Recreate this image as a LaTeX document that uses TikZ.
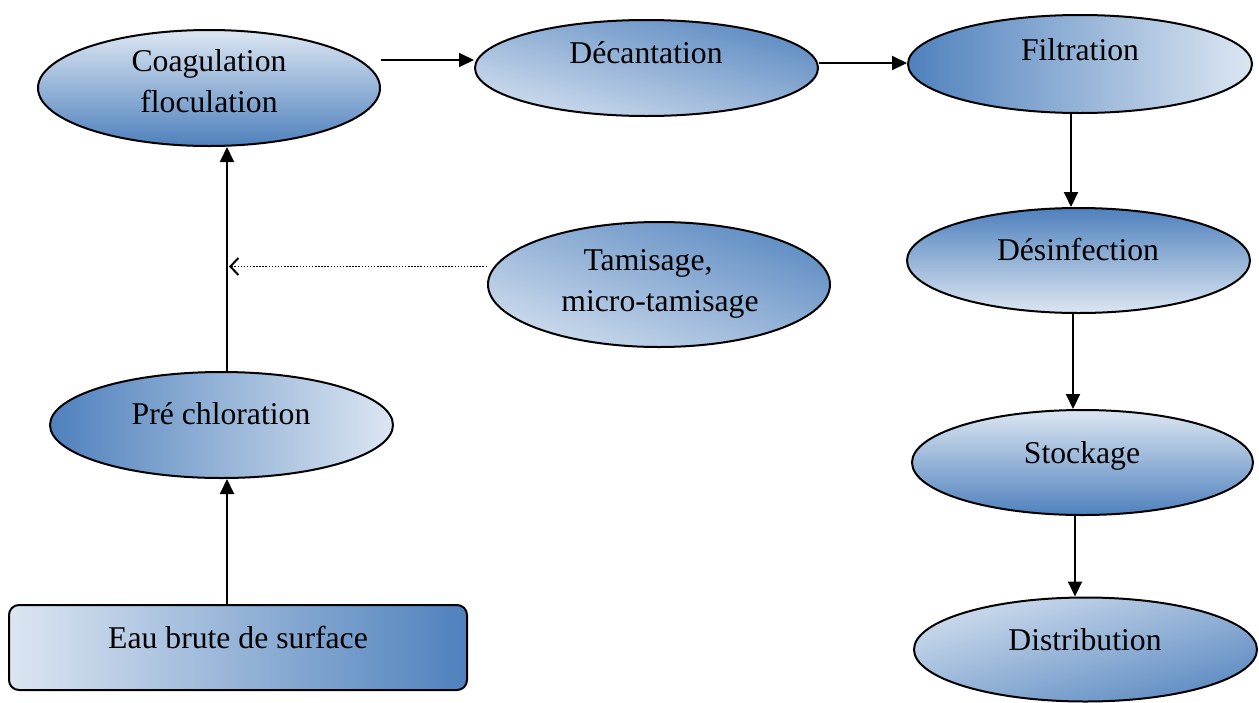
\documentclass[tikz,border=0pt]{standalone}
\usepackage{fontspec}
\setmainfont{Liberation Serif}
\usetikzlibrary{shapes.geometric,arrows.meta}

\definecolor{bdark}{HTML}{4F81BD}
\definecolor{blight}{HTML}{DCE6F2}

\tikzset{
  stage/.style={ellipse, draw=black, line width=2pt, inner sep=0pt},
  tolight/.style={left color=bdark, right color=blight},
  todark/.style={left color=blight, right color=bdark},
  topdark/.style={top color=bdark, bottom color=blight},
  toplight/.style={top color=blight, bottom color=bdark},
  lbl/.style={font=\fontsize{31.7}{41}\selectfont, align=center, anchor=base, inner sep=0pt},
  arr/.style={line width=2pt, -{Triangle[length=15pt,width=14pt]}},
  dotarr/.style={line width=1.6pt, dash pattern=on 1.5pt off 1.6pt,
    -{Straight Barb[length=8pt,width=17pt,line width=2pt]}}
}

% diagonal fill of an ellipse: ramp from one corner of its box to the opposite one
% #1 = centre, #2 = half width, #3 = half height, #4 = direction (45 or -45)
\newcommand{\diagfill}[4]{%
  \begin{scope}
    \clip #1 ellipse [x radius=#2, y radius=#3];
    \shade[left color=blight, right color=bdark,
      transform canvas={shift={#1}, xscale=#2, yscale=#3, rotate=#4}]
      (-1.4142,-1.4142) rectangle (1.4142,1.4142);
  \end{scope}}

\begin{document}
\begin{tikzpicture}[x=1pt,y=-1pt]
\useasboundingbox (0,0) rectangle (1259,702);

% centres of the stages with a diagonal fill
\coordinate (cdec) at (646.5,68);
\coordinate (ctam) at (659,284.5);
\coordinate (cdist) at (1085.5,649.5);
\diagfill{(cdec)}{171.5}{48}{45}
\diagfill{(ctam)}{171}{62.5}{45}
\diagfill{(cdist)}{171.5}{52}{-45}

% treatment stages
\node[stage, toplight, minimum width=342pt, minimum height=116pt] (coag) at (209,88) {};
\node[stage, minimum width=343pt, minimum height=96pt] (dec) at (cdec) {};
\node[stage, tolight, minimum width=344pt, minimum height=98pt] (filt) at (1080,64) {};
\node[stage, topdark, minimum width=343pt, minimum height=105pt] (des) at (1078.5,260.5) {};
\node[stage, toplight, minimum width=341pt, minimum height=105pt] (stock) at (1082.5,462.5) {};
\node[stage, minimum width=343pt, minimum height=104pt] (dist) at (cdist) {};
\node[stage, minimum width=342pt, minimum height=125pt] (tam) at (ctam) {};
\node[stage, tolight, minimum width=343pt, minimum height=106pt] (pre) at (221.5,425) {};
\node[draw=black, line width=2pt, rounded corners=10pt, todark,
      minimum width=458pt, minimum height=85pt] (eau) at (238,647.5) {};

% labels
\node[lbl] (coag-a) at (209,71) {Coagulation};
\node[lbl] (coag-b) at (209,112) {floculation};
\node[lbl] (dec-t) at (646,63) {Décantation};
\node[lbl] (filt-t) at (1080,60) {Filtration};
\node[lbl] (des-t) at (1078,260) {Désinfection};
\node[lbl] (stock-t) at (1082,463) {Stockage};
\node[lbl] (dist-t) at (1085,650) {Distribution};
\node[lbl] (tam-a) at (648,270) {Tamisage,};
\node[lbl] (tam-b) at (660,311) {micro-tamisage};
\node[lbl] (pre-t) at (221,424) {Pré chloration};
\node[lbl] (eau-t) at (238,648) {Eau brute de surface};

% flow on the left side
\coordinate (lx) at ([xshift=-11pt]eau.north);
\draw[arr] (lx) -- (lx |- pre.south);
\draw[arr] (lx |- pre.north) -- (lx |- coag.south);
\coordinate (tw) at ([yshift=18pt]tam.west);
\draw[dotarr] (tw) -- ([xshift=2pt]lx |- tw);

% top row
\draw[arr] ([yshift=28pt]coag.east) -- ([yshift=8pt]dec.west);
\draw[arr] ([yshift=5pt]dec.east) -- ([yshift=1pt]filt.west);

% right column
\coordinate (r1) at ([xshift=-9pt]filt.south);
\draw[arr] (r1) -- (r1 |- des.north);
\coordinate (r2) at ([xshift=-5.5pt]des.south);
\draw[arr] (r2) -- (r2 |- stock.north);
\coordinate (r3) at ([xshift=-7.5pt]stock.south);
\draw[arr] (r3) -- (r3 |- dist.north);
\end{tikzpicture}
\end{document}
